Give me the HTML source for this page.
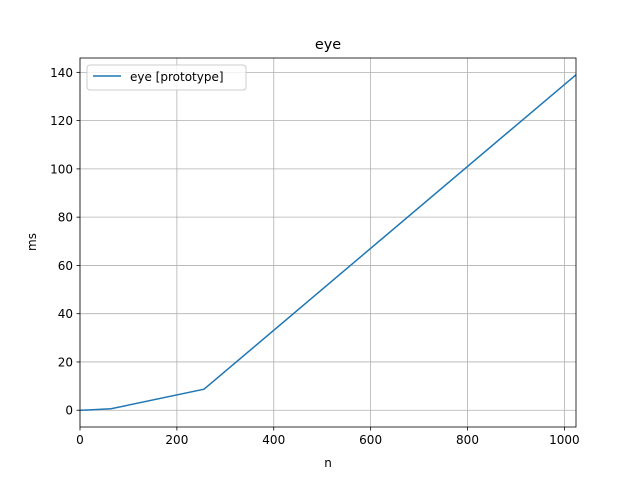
<!DOCTYPE html>
<html><head><meta charset="utf-8"><style>
body{margin:0;background:#fff;}
svg text{font-family:"DejaVu Sans","Liberation Sans",sans-serif;fill:#000;}
</style></head><body>
<svg id="chart" width="640" height="480" xmlns="http://www.w3.org/2000/svg">
<rect width="640" height="480" fill="#fff"/>
<g id="grid"></g>
<g id="ticks"></g>
<g id="series"></g>
<rect x="80" y="58" width="496" height="369" fill="none" stroke="#000" stroke-width="0.8"/>
<text x="328" y="49" font-size="14.4" text-anchor="middle">eye</text>
<text x="328" y="467" font-size="12" text-anchor="middle">n</text>
<text x="36" y="242" font-size="12" text-anchor="middle" transform="rotate(-90 36 242)">ms</text>
<g>
<rect x="87" y="65" width="159" height="25" rx="3" fill="#fff" fill-opacity="0.8" stroke="#ccc"/>
<line x1="93" y1="76" x2="121" y2="76" stroke="#1f77b4" stroke-width="1.5"/>
<text x="130" y="81" font-size="12">eye [prototype]</text>
</g>
</svg>
<script>
const nValues=[1,16,64,256,1024];
const msValues=[0,0.1,0.6,8.7,139];
const xTicks=[0,200,400,600,800,1000];
const yTicks=[0,20,40,60,80,100,120,140];
const X0=80,X1=576,Y0=427,Y1=58;
const xMin=0,xMax=1024,yMin=-6.95,yMax=145.95;
const sx=v=>X0+(v-xMin)/(xMax-xMin)*(X1-X0);
const sy=v=>Y0-(v-yMin)/(yMax-yMin)*(Y0-Y1);
const NS="http://www.w3.org/2000/svg";
const grid=document.getElementById('grid'),ticks=document.getElementById('ticks'),series=document.getElementById('series');
function mk(tag,attrs,parent){const e=document.createElementNS(NS,tag);for(const k in attrs)e.setAttribute(k,attrs[k]);parent.appendChild(e);return e;}
xTicks.forEach(t=>{const x=sx(t);
const g=mk('line',{x1:x,x2:x,y1:Y1,y2:Y0,stroke:'#b0b0b0','stroke-width':0.8},grid);


mk('line',{x1:x,x2:x,y1:Y0,y2:Y0+3.5,stroke:'#000','stroke-width':0.8},ticks);
const tx=mk('text',{x:x,y:Y0+17,'font-size':12,'text-anchor':'middle'},ticks);tx.textContent=t;


});
yTicks.forEach(t=>{const y=sy(t);
const g=mk('line',{x1:X0,x2:X1,y1:y,y2:y,stroke:'#b0b0b0','stroke-width':0.8},grid);


mk('line',{x1:X0-3.5,x2:X0,y1:y,y2:y,stroke:'#000','stroke-width':0.8},ticks);
const tx=mk('text',{x:X0-7,y:y+4.5,'font-size':12,'text-anchor':'end'},ticks);tx.textContent=t;


});
const pts=nValues.map((n,i)=>sx(n)+','+sy(msValues[i])).join(' ');
const pl=mk('polyline',{points:pts,fill:'none',stroke:'#1f77b4','stroke-width':1.5},series);


</script>
</body></html>
